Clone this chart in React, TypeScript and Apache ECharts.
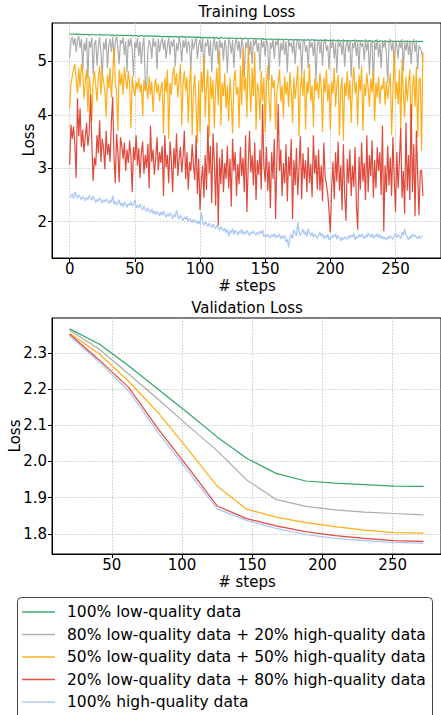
import React, { useEffect, useRef } from "react";
import * as echarts from "echarts";

const seriesNames = [
  "100% low-quality data",
  "80% low-quality data + 20% high-quality data",
  "50% low-quality data + 50% high-quality data",
  "20% low-quality data + 80% high-quality data",
  "100% high-quality data",
];
const seriesColors = ["#1f9d55", "#a3a3a3", "#ffa500", "#dd3526", "#9dbff5"];

// Training loss (steps 0..271)
const trainGreen = [
  5.52,5.51,5.52,5.51,5.51,5.52,5.50,5.51,5.51,5.50,
  5.51,5.50,5.51,5.50,5.51,5.49,5.50,5.51,5.50,5.50,
  5.49,5.50,5.50,5.51,5.49,5.50,5.49,5.50,5.49,5.50,
  5.50,5.49,5.49,5.50,5.48,5.49,5.50,5.49,5.48,5.49,
  5.49,5.48,5.49,5.49,5.48,5.49,5.48,5.49,5.48,5.48,
  5.49,5.48,5.48,5.47,5.48,5.49,5.48,5.47,5.48,5.48,
  5.48,5.47,5.48,5.48,5.47,5.48,5.47,5.47,5.48,5.47,
  5.47,5.46,5.47,5.47,5.46,5.47,5.47,5.46,5.47,5.46,
  5.46,5.47,5.46,5.46,5.45,5.46,5.47,5.46,5.45,5.46,
  5.46,5.45,5.46,5.46,5.45,5.46,5.45,5.45,5.46,5.45,
  5.45,5.44,5.45,5.45,5.44,5.45,5.44,5.45,5.44,5.44,
  5.45,5.44,5.44,5.45,5.43,5.44,5.45,5.44,5.43,5.44,
  5.44,5.43,5.44,5.44,5.43,5.44,5.43,5.43,5.44,5.43,
  5.43,5.44,5.43,5.42,5.43,5.44,5.43,5.42,5.43,5.43,
  5.43,5.42,5.43,5.42,5.42,5.43,5.42,5.42,5.43,5.41,
  5.42,5.41,5.42,5.42,5.41,5.42,5.41,5.42,5.41,5.41,
  5.42,5.41,5.41,5.42,5.40,5.41,5.42,5.41,5.40,5.41,
  5.41,5.40,5.41,5.41,5.40,5.41,5.40,5.41,5.40,5.40,
  5.41,5.40,5.40,5.41,5.39,5.40,5.41,5.40,5.39,5.40,
  5.40,5.39,5.40,5.40,5.39,5.40,5.39,5.40,5.39,5.39,
  5.40,5.39,5.39,5.40,5.38,5.39,5.40,5.39,5.38,5.39,
  5.39,5.38,5.39,5.39,5.38,5.39,5.38,5.39,5.39,5.38,
  5.39,5.38,5.39,5.38,5.39,5.38,5.38,5.39,5.38,5.38,
  5.39,5.38,5.38,5.37,5.38,5.39,5.38,5.37,5.38,5.38,
  5.38,5.37,5.38,5.38,5.37,5.38,5.37,5.38,5.38,5.37,
  5.38,5.37,5.38,5.37,5.38,5.37,5.37,5.38,5.37,5.38,
  5.37,5.38,5.37,5.37,5.38,5.37,5.38,5.37,5.37,5.38,
  5.37,5.38,
];
const trainGray = [
  5.07,5.38,5.46,5.30,5.44,5.18,5.40,5.48,5.25,5.42,
  4.82,5.35,5.20,5.44,4.68,5.38,5.26,5.45,4.75,5.32,
  5.40,4.92,5.28,5.45,5.15,4.70,5.36,5.22,5.44,4.88,
  5.30,5.42,5.18,5.46,5.05,5.38,5.47,5.25,4.95,5.40,
  5.33,5.45,5.12,5.38,4.80,5.42,5.28,5.44,5.20,4.72,
  5.36,5.25,5.44,5.10,5.38,4.95,5.30,5.45,4.62,4.48,
  5.20,5.40,5.32,5.05,5.44,5.28,5.38,4.85,5.42,5.18,
  5.35,5.44,5.22,5.40,5.05,5.30,5.45,5.12,5.38,5.28,
  5.42,4.90,5.35,5.20,5.44,5.32,4.98,5.40,5.26,5.43,
  5.15,5.38,5.30,4.85,5.42,5.22,5.36,5.44,5.05,5.32,
  5.40,5.18,5.44,4.72,5.35,5.28,5.42,5.10,5.38,4.80,
  5.30,5.44,5.20,5.38,4.95,5.42,5.25,5.36,5.02,5.40,
  5.28,4.78,5.42,5.35,5.15,5.40,4.88,5.33,5.44,5.20,
  5.38,5.05,5.42,5.30,4.70,5.36,5.25,5.43,5.12,5.38,
  4.95,5.40,5.30,5.44,5.18,5.35,4.82,5.42,5.26,5.38,
  5.10,5.40,5.32,4.65,5.36,5.24,5.42,5.05,5.38,5.30,
  5.44,4.90,5.35,5.20,5.40,5.12,5.38,4.80,5.42,5.28,
  5.36,5.15,5.42,4.95,5.33,5.40,5.22,5.38,4.75,5.35,
  5.42,5.18,5.30,4.88,5.40,5.26,5.36,5.10,5.42,4.62,
  5.32,5.40,5.15,5.38,4.92,5.35,5.42,5.20,5.30,4.85,
  5.38,5.25,5.42,5.05,5.35,4.78,5.40,5.28,5.36,5.12,
  5.42,4.90,5.30,5.38,5.18,5.40,4.70,5.35,5.25,5.42,
  5.10,5.36,4.85,5.40,5.28,5.34,5.02,5.42,5.20,5.38,
  4.75,5.32,5.40,4.55,5.36,5.22,5.42,5.08,5.35,4.88,
  5.38,5.26,5.40,5.15,4.60,5.34,5.42,5.20,5.36,4.92,
  5.40,5.30,5.05,5.38,5.25,5.42,4.82,5.35,5.20,5.40,
  5.12,5.38,4.95,5.34,5.42,5.18,5.36,4.85,5.30,5.25,
  5.18,4.99,
];
const trainOrange = [
  4.12,4.58,4.72,4.85,4.95,4.66,4.40,4.88,4.52,4.95,
  4.78,4.30,4.62,4.85,4.05,4.72,4.48,3.88,4.60,4.82,
  4.55,4.25,4.70,4.92,4.38,4.80,4.62,4.45,3.95,4.75,
  4.50,4.88,4.32,4.72,5.25,4.60,4.42,3.70,4.85,4.55,
  4.78,4.38,4.90,4.65,4.48,4.82,4.58,3.75,4.72,4.50,
  4.35,4.62,4.48,4.70,4.42,4.58,3.98,4.66,4.45,4.55,
  4.30,4.72,4.38,4.62,4.05,4.52,4.68,4.40,4.58,4.25,
  4.50,4.62,3.65,4.70,4.42,4.85,3.55,4.60,4.38,4.75,
  4.90,4.55,4.78,4.32,4.68,4.95,3.80,4.58,4.82,4.45,
  4.70,3.85,4.62,4.90,3.62,4.48,4.75,4.15,3.48,4.65,
  3.68,4.80,4.42,5.10,3.95,4.55,4.85,3.58,4.72,4.30,
  4.65,3.75,4.50,4.88,4.18,5.22,3.80,4.60,4.35,4.78,
  4.12,4.55,3.88,4.70,4.28,3.65,4.62,4.85,4.38,4.52,
  3.75,4.92,4.18,5.25,4.45,4.70,3.95,5.30,4.62,4.05,
  4.88,4.35,5.18,3.72,4.60,4.45,3.90,4.82,4.25,4.70,
  3.68,4.55,4.92,4.30,3.88,4.75,4.50,4.65,3.72,4.42,
  4.60,4.85,4.25,4.55,3.95,4.72,4.38,4.62,4.15,4.80,
  4.45,3.85,4.70,4.30,4.58,4.92,3.60,4.50,4.75,4.35,
  4.85,3.72,4.62,4.40,4.95,4.25,4.55,3.78,4.68,4.45,
  4.62,4.30,4.78,4.52,3.68,4.70,4.42,4.85,4.25,4.58,
  3.72,4.62,4.40,4.88,4.15,4.55,4.75,3.62,4.48,4.70,
  3.52,4.60,4.35,4.82,4.28,4.65,3.85,4.55,4.90,4.40,
  4.62,3.80,4.75,4.45,4.92,3.70,4.58,4.35,4.78,4.50,
  4.15,4.68,4.42,4.85,3.88,4.60,4.32,4.72,4.20,4.55,
  4.48,4.70,4.18,4.62,4.30,4.55,4.78,3.62,4.45,5.20,
  4.30,4.62,4.20,4.85,3.70,5.05,4.40,3.95,4.72,4.25,
  4.60,4.85,3.65,4.52,4.75,4.15,4.90,3.58,4.65,4.70,
  3.33,5.18,
];
const trainRed = [
  3.07,3.82,3.55,3.78,3.45,2.82,4.31,3.60,4.12,3.40,
  3.72,3.30,3.58,3.85,3.42,3.66,4.38,3.48,2.76,3.20,
  3.05,3.62,3.28,3.90,3.12,3.55,3.38,2.98,3.70,3.25,
  3.46,3.12,3.85,4.34,3.22,2.72,3.64,3.30,2.74,3.58,
  3.42,3.18,3.48,2.95,3.35,3.10,3.52,3.22,2.55,3.40,
  3.15,3.62,3.05,3.38,2.82,3.28,3.50,2.90,3.25,3.00,
  3.46,2.62,3.80,3.12,3.35,2.88,3.18,3.58,2.96,3.30,
  3.10,3.42,2.48,3.62,3.02,3.25,2.72,3.50,3.15,2.55,
  3.38,3.00,3.65,2.85,3.18,3.40,2.92,3.22,3.70,2.80,
  3.30,2.60,3.12,2.95,3.45,3.05,2.78,3.62,2.52,3.18,
  2.22,2.75,3.05,2.45,3.25,2.60,3.80,2.90,3.42,2.35,
  3.65,3.12,2.30,3.48,1.92,3.20,2.70,3.36,2.55,3.10,
  2.80,3.42,2.62,3.18,2.28,3.55,2.95,3.30,2.48,3.08,
  2.70,3.40,2.85,3.20,2.55,3.62,2.18,3.05,3.70,2.92,
  3.25,2.68,3.48,2.40,3.15,2.88,3.35,2.60,4.20,3.05,
  2.75,3.40,2.58,3.12,2.25,3.30,2.80,3.55,2.05,3.18,
  4.20,2.95,3.35,2.48,3.10,2.72,3.45,2.38,3.22,2.85,
  3.55,2.05,3.15,2.68,3.38,2.50,3.02,3.60,2.42,3.28,
  2.80,3.15,2.55,3.40,2.72,3.08,2.46,3.62,2.90,3.25,
  2.60,3.35,2.58,3.05,2.38,3.48,2.85,2.70,2.52,2.20,
  1.80,2.62,3.12,2.42,3.30,2.75,3.50,2.58,3.05,2.22,
  3.45,2.50,2.02,3.18,2.72,3.35,2.48,3.05,2.65,3.40,
  2.30,1.85,3.22,2.60,3.48,2.75,3.10,2.40,3.62,2.55,
  3.25,2.85,3.52,2.45,3.15,2.62,3.40,2.95,3.30,2.50,
  3.80,1.82,3.05,2.55,3.42,2.68,3.20,2.48,3.58,2.82,
  2.18,3.30,2.62,3.15,3.75,2.45,2.95,2.15,3.85,2.58,
  3.25,2.40,4.20,2.55,3.45,2.10,3.70,2.88,2.12,2.95,
  2.96,2.48,
];
const trainBlue = [
  2.45,2.47,2.52,2.43,2.56,2.48,2.44,2.50,2.46,2.41,
  2.47,2.44,2.39,2.45,2.42,2.49,2.46,2.40,2.48,2.43,
  2.36,2.42,2.38,2.45,2.40,2.35,2.41,2.37,2.43,2.39,
  2.34,2.40,2.36,2.49,2.33,2.38,2.31,2.36,2.41,2.30,
  2.35,2.28,2.37,2.32,2.27,2.34,2.30,2.38,2.29,2.33,
  2.41,2.26,2.31,2.25,2.33,2.27,2.22,2.30,2.24,2.19,
  2.26,2.21,2.17,2.24,2.15,2.20,2.13,2.19,2.16,2.11,
  2.18,2.12,2.20,2.14,2.08,2.15,2.10,2.17,2.12,2.06,
  2.13,2.09,2.22,2.10,2.05,2.12,2.07,2.02,2.09,2.04,
  2.10,2.00,2.06,2.03,1.98,2.05,1.99,2.02,1.96,2.01,
  1.95,2.18,1.99,1.93,2.00,1.96,1.91,1.97,1.93,1.89,
  1.95,1.90,1.87,1.93,1.88,1.84,1.91,1.86,1.82,1.88,
  1.80,1.85,1.72,1.83,1.79,1.87,1.76,1.84,1.80,1.75,
  1.82,1.78,1.86,1.76,1.81,1.77,1.84,1.79,1.74,1.81,
  1.77,1.83,1.78,1.75,1.80,1.76,1.82,1.78,1.84,1.72,
  1.75,1.71,1.77,1.73,1.69,1.76,1.72,1.78,1.70,1.74,
  1.71,1.77,1.68,1.73,1.69,1.75,1.62,1.67,1.52,1.70,
  1.76,1.68,1.85,1.79,1.73,1.99,1.81,1.74,1.80,1.86,
  1.76,1.82,1.72,1.87,1.78,1.74,1.80,1.71,1.77,1.73,
  1.69,1.75,1.80,1.72,1.78,1.68,1.74,1.70,1.76,1.66,
  1.72,1.69,1.75,1.71,1.78,1.67,1.74,1.70,1.64,1.71,
  1.66,1.72,1.68,1.67,1.74,1.69,1.75,1.71,1.78,1.66,
  1.73,1.69,1.76,1.71,1.77,1.72,1.68,1.75,1.70,1.79,
  1.74,1.71,1.77,1.69,1.75,1.72,1.78,1.70,1.76,1.68,
  1.73,1.67,1.71,1.65,1.72,1.68,1.74,1.70,1.67,1.73,
  1.79,1.70,1.76,1.72,1.68,1.81,1.74,1.86,1.75,1.71,
  1.66,1.73,1.69,1.77,1.72,1.75,1.71,1.68,1.73,1.69,
  1.72,1.74,
];

// Validation loss
const evalSteps = [20, 41, 62, 83, 104, 125, 146, 167, 188, 209, 230, 251, 272];
const valGreen = [2.367, 2.325, 2.265, 2.2, 2.135, 2.068, 2.009, 1.967, 1.946, 1.94, 1.936, 1.932, 1.931];
const valGray = [2.363, 2.311, 2.242, 2.172, 2.1, 2.03, 1.949, 1.895, 1.876, 1.866, 1.86, 1.856, 1.852];
const valOrange = [2.355, 2.298, 2.222, 2.135, 2.035, 1.932, 1.868, 1.846, 1.831, 1.82, 1.81, 1.803, 1.802];
const valRed = [2.352, 2.281, 2.205, 2.09, 1.985, 1.877, 1.842, 1.822, 1.806, 1.795, 1.787, 1.781, 1.779];
const valBlue = [2.348, 2.275, 2.195, 2.08, 1.975, 1.869, 1.837, 1.815, 1.798, 1.787, 1.781, 1.776, 1.774];

const trainXTicks = [0, 50, 100, 150, 200, 250];
const trainYTicks = [2, 3, 4, 5];
const valXTicks = [50, 100, 150, 200, 250];
const valYTicks = [1.8, 1.9, 2.0, 2.1, 2.2, 2.3];

const FONT = "DejaVu Sans";
// legend handle: a thin bar centred in a 33x14 box (moveTo points fix the box)
const LEGEND_ICON = "path://M0,0M33,14M0,6.3H33V7.7H0Z";

export default function App() {
  const ref = useRef<HTMLDivElement>(null);
  useEffect(() => {
    document.body.style.margin = "0";
    if (!ref.current) return;
    const chart = echarts.init(ref.current, undefined, { renderer: "svg" });
    const trainAll = [trainGreen, trainGray, trainOrange, trainRed, trainBlue];
    const valAll = [valGreen, valGray, valOrange, valRed, valBlue];

    const gridLine = { show: true, lineStyle: { color: "#bdbdbd", width: 0.8, type: [1.5, 1.5] } };
    const axisLine = { show: true, onZero: false, lineStyle: { color: "#000", width: 1 } };
    const label = { color: "#000", fontSize: 15, fontFamily: FONT };
    const mkAxis = (gridIndex: number, min: number, max: number, ticks: number[], isY: boolean, fmt?: (v: number) => string) => ({
      type: "value",
      gridIndex,
      min,
      max,
      axisLine,
      axisTick: { show: true, length: 4, inside: false, customValues: ticks, lineStyle: { color: "#000", width: 1 } },
      axisLabel: {
        ...label,
        customValues: ticks,
        margin: isY ? 5 : 3,
        formatter: fmt ? (v: number) => fmt(v) : (v: number) => String(v),
      },
      splitLine: gridLine,
    });

    const series: any[] = [];
    trainAll.forEach((arr, k) => {
      series.push({
        type: "line",
        name: seriesNames[k],
        xAxisIndex: 0,
        yAxisIndex: 0,
        data: arr.map((v, i) => [i, v]),
        symbol: "none",
        showSymbol: false,
        lineStyle: { color: seriesColors[k], width: 1.2, opacity: 0.9 },
        itemStyle: { color: seriesColors[k] },
        z: 2 + k,
      });
    });
    valAll.forEach((arr, k) => {
      series.push({
        type: "line",
        name: seriesNames[k],
        xAxisIndex: 1,
        yAxisIndex: 1,
        data: arr.map((v, i) => [evalSteps[i], v]),
        symbol: "none",
        showSymbol: false,
        lineStyle: { color: seriesColors[k], width: 1.2, opacity: 0.9 },
        itemStyle: { color: seriesColors[k] },
        z: 2 + k,
      });
    });

    const textEl = (t: string, x: number, y: number, rot = 0) => ({
      type: "text",
      x,
      y,
      rotation: rot,
      style: { text: t, font: `15px '${FONT}'`, fill: "#000", textAlign: "center", textVerticalAlign: "middle" },
      silent: true,
    });

    chart.setOption({
      animation: false,
      backgroundColor: "#fff",
      grid: [
        { left: 52, top: 23, width: 392, height: 235, show: true, borderColor: "#000", borderWidth: 1, backgroundColor: "transparent" },
        { left: 52, top: 318, width: 390, height: 236, show: true, borderColor: "#000", borderWidth: 1, backgroundColor: "transparent" },
      ],
      xAxis: [
        mkAxis(0, -13.55, 284.9, trainXTicks, false),
        mkAxis(1, 7.45, 284.4, valXTicks, false),
      ],
      yAxis: [
        mkAxis(0, 1.32, 5.72, trainYTicks, true),
        mkAxis(1, 1.744, 2.397, valYTicks, true, (v) => v.toFixed(1)),
      ],
      legend: {
        orient: "vertical",
        left: 22,
        top: 604,
        padding: 0,
        icon: LEGEND_ICON,
        itemWidth: 33,
        itemHeight: 14,
        itemGap: 6.5,
        data: seriesNames,
        itemStyle: { opacity: 0.85 },
        textStyle: { color: "#000", fontSize: 15.5, fontFamily: FONT, lineHeight: 14, padding: [0, 0, 0, 7] },
        selectedMode: false,
      },
      graphic: [
        textEl("Training Loss", 247, 12),
        textEl("Validation Loss", 247, 308),
        textEl("# steps", 247, 286),
        textEl("# steps", 247, 582),
        textEl("Loss", 29, 140, Math.PI / 2),
        textEl("Loss", 15, 436, Math.PI / 2),
        {
          type: "rect",
          shape: { x: 17.5, y: 597.5, width: 415, height: 140, r: 4 },
          style: { fill: "none", stroke: "#444", lineWidth: 1 },
          silent: true,
          z: -1,
        },
      ],
      series,
    });
    return () => chart.dispose();
  }, []);
  return <div ref={ref} style={{ width: 441, height: 715 }} />;
}
